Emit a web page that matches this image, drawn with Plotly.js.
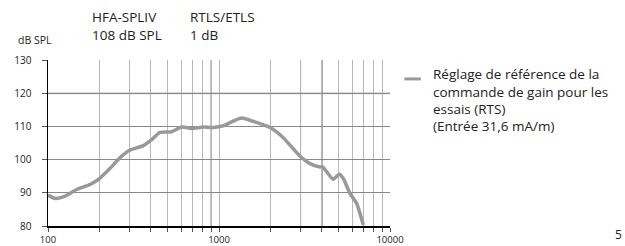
<!DOCTYPE html>
<html><head><meta charset="utf-8">
<script src="https://cdn.plot.ly/plotly-3.0.1.min.js"></script>
<style>html,body{margin:0;padding:0;background:#fff;}#c{width:625px;height:246px;}</style>
</head><body><div id="c"></div>
<script>
const freq = [100,110,126,147,176,200,230,264,300,361,404,452,529,604,692,809,926,1059,1212,1357,1587,2000,2377,2977,3404,3896,4035,4264,4661,5052,5333,5834,6383,6983];
const level = [89.3,88.3,89.0,91.0,92.5,94.3,97.3,100.6,102.8,104.2,106.0,108.2,108.4,109.8,109.4,109.8,109.7,110.2,111.6,112.5,111.5,109.6,106.6,101.0,98.8,97.8,97.8,96.3,94.1,95.6,94.3,89.8,86.8,80.3];
const xTickVals = [100,200,300,400,500,600,700,800,900,1000,2000,3000,4000,5000,6000,7000,8000,9000,10000];
const xTickText = ['100','','','','','','','','','1000','','','','','','','','','10000'];
const yTickVals = [80,90,100,110,120,130];
const legendLines = ['Réglage de référence de la','commande de gain pour les','essais (RTS)','(Entrée 31,6 mA/m)'];
const headerCols = [['HFA-SPLIV','108 dB SPL'],['RTLS/ETLS','1 dB']];

const font = 'Open Sans, Noto Sans, sans-serif';
const ann = [];
ann.push({xref:'paper',yref:'paper',x:-0.038,y:1.065,xanchor:'center',yanchor:'bottom',text:'dB SPL',showarrow:false,font:{family:font,size:10.5,color:'#222'}});
headerCols.forEach((c,i)=>{
  ann.push({xref:'paper',yref:'paper',x:[0.122,0.41][i],y:1.19,xanchor:'left',yanchor:'bottom',text:c[0],showarrow:false,font:{family:font,size:13.5,color:'#222'}});
  ann.push({xref:'paper',yref:'paper',x:[0.122,0.41][i],y:1.085,xanchor:'left',yanchor:'bottom',text:c[1],showarrow:false,font:{family:font,size:13.5,color:'#222'}});
});
legendLines.forEach((t,i)=>{
  ann.push({xref:'paper',yref:'paper',x:1.12,y:1.0-0.02-i*0.104,xanchor:'left',yanchor:'top',text:t,showarrow:false,font:{family:font,size:13.5,color:'#222'}});
});
ann.push({xref:'paper',yref:'paper',x:1.684,y:0.01,xanchor:'right',yanchor:'top',text:'5',showarrow:false,font:{family:font,size:12,color:'#222'}});

const shapes = [
  {type:'line',xref:'x',yref:'y',x0:100,x1:10000,y0:120,y1:120,line:{color:'#cfcfcf',width:2},layer:'below'},
  {type:'line',xref:'x',yref:'y',x0:900,x1:900,y0:80,y1:130,line:{color:'#555',width:1},layer:'below'},
  {type:'line',xref:'x',yref:'y',x0:3000,x1:3000,y0:80,y1:130,line:{color:'#777',width:1},layer:'below'},
  {type:'line',xref:'x',yref:'y',x0:4000,x1:4000,y0:80,y1:130,line:{color:'#444',width:1},layer:'below'},
  {type:'line',xref:'paper',yref:'paper',x0:1.042,x1:1.09,y0:0.886,y1:0.886,line:{color:'#999',width:3}}
];

Plotly.newPlot('c',[{
  x:freq,y:level,type:'scatter',mode:'lines',line:{color:'#999999',width:3.5,shape:'spline',smoothing:0.6},hoverinfo:'skip'
}],{
  width:625,height:246,margin:{l:48,r:235,t:60,b:20},
  paper_bgcolor:'#fff',plot_bgcolor:'#fff',showlegend:false,
  xaxis:{type:'log',range:[2,4],tickvals:xTickVals,ticktext:xTickText,showgrid:true,gridcolor:'#b8b8b8',gridwidth:1,
    showline:true,linecolor:'#000',linewidth:1.5,mirror:false,ticks:'outside',ticklen:4,tickcolor:'#555',
    tickfont:{family:font,size:9.5,color:'#222'},zeroline:false,fixedrange:true},
  yaxis:{range:[80,130],tickvals:yTickVals,showgrid:true,gridcolor:'#888',gridwidth:1,showline:true,linecolor:'#000',linewidth:1.5,
    ticks:'outside',ticklen:5,tickcolor:'#555',ticklabelstandoff:8,tickfont:{family:font,size:10,color:'#222'},zeroline:false,fixedrange:true},
  annotations:ann,shapes:shapes
},{staticPlot:true});
</script></body></html>
